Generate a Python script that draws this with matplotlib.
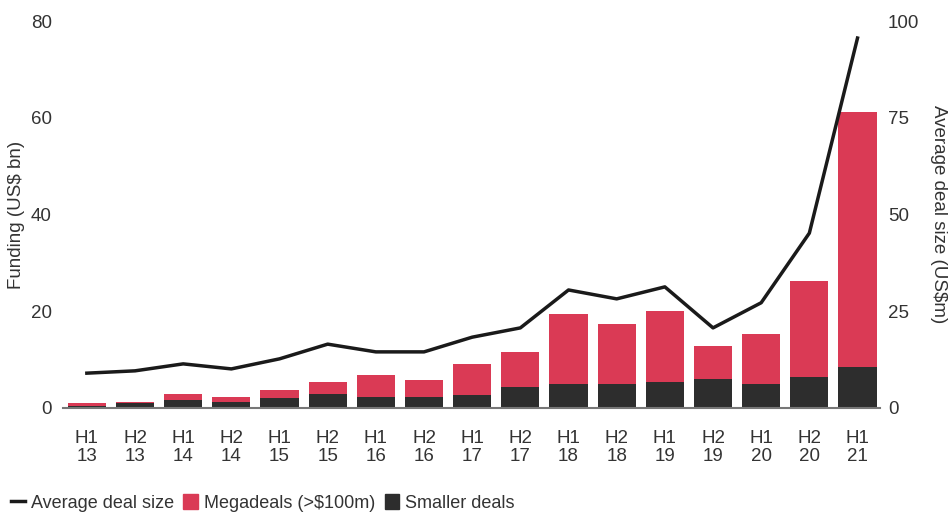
import numpy as np
import matplotlib.pyplot as plt
from matplotlib.lines import Line2D
from matplotlib.patches import Patch

plt.rcParams['font.family'] = ['Liberation Sans', 'DejaVu Sans']

periods = ["H1\n13", "H2\n13", "H1\n14", "H2\n14", "H1\n15", "H2\n15", "H1\n16", "H2\n16",
           "H1\n17", "H2\n17", "H1\n18", "H2\n18", "H1\n19", "H2\n19", "H1\n20", "H2\n20", "H1\n21"]
total = [1.1, 1.3, 2.8, 2.3, 3.8, 5.4, 6.9, 5.8, 9.1, 11.6, 19.4, 17.4, 20.0, 12.8, 15.3, 26.2, 61.2]
smaller = [0.5, 1.0, 1.7, 1.3, 2.1, 2.8, 2.3, 2.3, 2.7, 4.4, 5.0, 5.0, 5.4, 6.0, 5.0, 6.4, 8.5]
avg_deal = [9.0, 9.6, 11.4, 10.1, 12.7, 16.5, 14.5, 14.5, 18.3, 20.7, 30.5, 28.2, 31.3, 20.7, 27.2, 45.2, 95.6]

mega = [t - s for t, s in zip(total, smaller)]

red = "#da3a55"
dark = "#2d2d2d"
txt = "#333333"
fs = 13.5

fig = plt.figure(figsize=(9.51, 5.13), dpi=100)
ax = fig.add_axes([0.066, 0.2047, 0.859, 0.7543])
x = np.arange(len(periods))

ax.bar(x, smaller, width=0.79, color=dark, zorder=2)
ax.bar(x, mega, bottom=smaller, width=0.79, color=red, zorder=2)

ax.set_xlim(-0.5, len(periods) - 0.54)
ax.set_ylim(0, 80)
ax.set_yticks([0, 20, 40, 60, 80])
ax.set_xticks(x)
ax.set_xticklabels(periods, fontsize=fs, color=txt, linespacing=1.05)
ax.tick_params(axis='x', length=0, pad=16)
ax.tick_params(axis='y', length=0, labelsize=fs, labelcolor=txt, pad=8)
for s in ['top', 'right', 'left']:
    ax.spines[s].set_visible(False)
ax.spines['bottom'].set_color('#777777')
ax.spines['bottom'].set_linewidth(1.5)
ax.set_ylabel("Funding (US\\$ bn)", fontsize=fs, color=txt, labelpad=4)

ax2 = ax.twinx()
ax2.plot(x, avg_deal, color="#1a1a1a", lw=2.5, zorder=3)
ax2.set_ylim(0, 100)
ax2.set_yticks([0, 25, 50, 75, 100])
ax2.tick_params(axis='y', length=0, labelsize=fs, labelcolor=txt, pad=6)
for s in ['top', 'right', 'left', 'bottom']:
    ax2.spines[s].set_visible(False)
ax2.set_ylabel("Average deal size (US\\$m)", fontsize=fs, color=txt, rotation=270, labelpad=20)

handles = [Line2D([0], [0], color="#1a1a1a", lw=2.5),
           Patch(color=red), Patch(color=dark)]
labels = ["Average deal size", "Megadeals (>\\$100m)", "Smaller deals"]
fig.legend(handles, labels, loc='lower left', bbox_to_anchor=(-0.006, -0.03), ncol=3,
           frameon=False, fontsize=13, handlelength=0.8, handleheight=0.9,
           handletextpad=0.35, columnspacing=0.5, labelcolor=txt)

fig.savefig("out.png", dpi=100)
